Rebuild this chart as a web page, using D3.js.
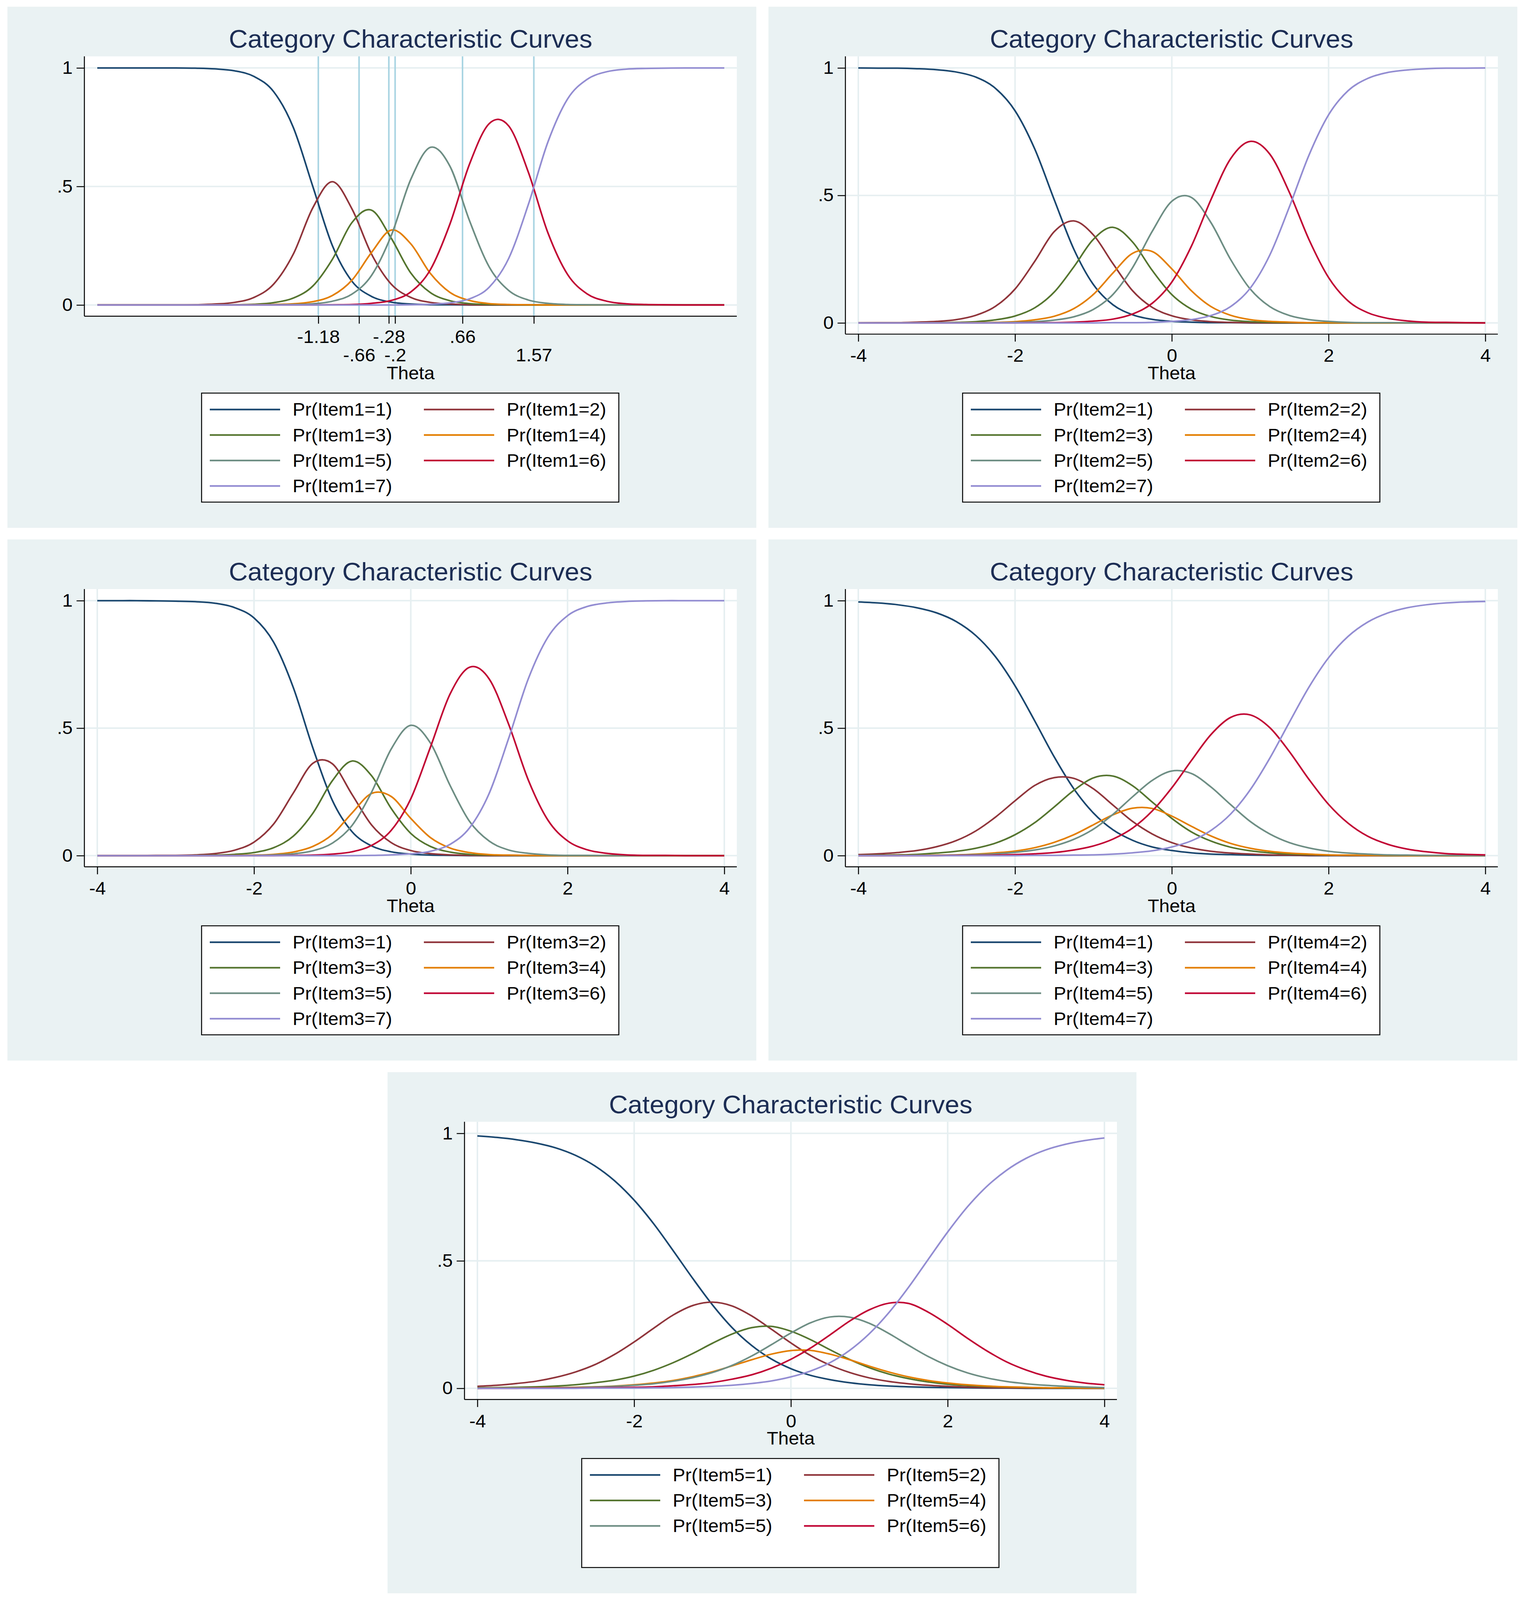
<!DOCTYPE html>
<html>
<head>
<meta charset="utf-8">
<title>Category Characteristic Curves</title>
<script src="https://cdn.jsdelivr.net/npm/d3@7"></script>
<style>
  html, body { margin: 0; padding: 0; width: 100%; height: 100%; overflow: hidden; background: #ffffff; }
  #chart svg { display: block; width: 100vw; height: 100vh; font-family: "Liberation Sans", Arial, Helvetica, sans-serif; }
</style>
</head>
<body>
<div id="chart"></div>
<script>
// theta grid shared by all five items
const theta = [-4,-3.75,-3.5,-3.25,-3,-2.75,-2.5,-2.25,-2,-1.75,-1.5,-1.25,-1,-0.75,-0.5,-0.25,0,
               0.25,0.5,0.75,1,1.25,1.5,1.75,2,2.25,2.5,2.75,3,3.25,3.5,3.75,4];

// Item1, Pr(Item1=k)
const item1Cat1 = [1,1,1,1,1,.999,.996,.988,.964,.900,.750,.500,.250,.100,.036,.012,.004,.001,.001,0,0,0,0,0,0,0,0,0,0,0,0,0,0];
const item1Cat2 = [0,0,0,0,0,.001,.004,.011,.032,.088,.214,.410,.520,.405,.214,.088,.032,.011,.004,.001,0,0,0,0,0,0,0,0,0,0,0,0,0];
const item1Cat3 = [0,0,0,0,0,0,0,.001,.003,.010,.029,.080,.193,.348,.400,.282,.135,.052,.018,.006,.002,.001,0,0,0,0,0,0,0,0,0,0,0];
const item1Cat4 = [0,0,0,0,0,0,0,0,.001,.002,.005,.014,.040,.105,.222,.316,.258,.133,.053,.019,.006,.002,.001,0,0,0,0,0,0,0,0,0,0];
const item1Cat5 = [0,0,0,0,0,0,0,0,0,.001,.002,.005,.016,.046,.125,.292,.530,.665,.585,.355,.161,.061,.021,.007,.002,.001,0,0,0,0,0,0,0];
const item1Cat6 = [0,0,0,0,0,0,0,0,0,0,0,0,.001,.002,.007,.019,.055,.149,.342,.595,.765,.755,.560,.304,.129,.047,.016,.005,.002,.001,0,0,0];
const item1Cat7 = [0,0,0,0,0,0,0,0,0,0,0,0,0,0,0,0,.001,.003,.009,.026,.075,.197,.424,.688,.869,.952,.984,.995,.998,.999,1,1,1];
// boundaries marked on the Item1 graph
const item1Cuts = [-1.18,-0.66,-0.28,-0.2,0.66,1.57];
const item1CutLabels = ["-1.18","-.66","-.28","-.2",".66","1.57"];

// Item2
const item2Cat1 = [1,.999,.999,.997,.993,.984,.964,.920,.832,.683,.483,.289,.150,.071,.032,.014,.006,.003,.001,.001,0,0,0,0,0,0,0,0,0,0,0,0,0];
const item2Cat2 = [0,.001,.001,.003,.006,.013,.030,.065,.133,.241,.358,.400,.345,.232,.126,.061,.028,.012,.005,.002,.001,0,0,0,0,0,0,0,0,0,0,0,0];
const item2Cat3 = [0,0,0,0,.001,.002,.005,.012,.027,.059,.121,.220,.328,.375,.317,.206,.111,.054,.025,.011,.005,.002,.001,0,0,0,0,0,0,0,0,0,0];
const item2Cat4 = [0,0,0,0,0,0,.001,.002,.005,.012,.026,.056,.112,.196,.273,.280,.212,.126,.064,.030,.013,.006,.003,.001,.001,0,0,0,0,0,0,0,0];
const item2Cat5 = [0,0,0,0,0,0,0,.001,.002,.005,.011,.024,.053,.112,.217,.359,.477,.492,.393,.249,.133,.064,.029,.013,.006,.002,.001,.001,0,0,0,0,0];
const item2Cat6 = [0,0,0,0,0,0,0,0,0,.001,.001,.003,.007,.015,.035,.077,.160,.301,.484,.644,.712,.662,.512,.327,.178,.086,.040,.018,.008,.003,.002,.001,0];
const item2Cat7 = [0,0,0,0,0,0,0,0,0,0,0,0,0,.001,.001,.002,.006,.013,.029,.064,.136,.266,.455,.658,.816,.911,.959,.982,.992,.997,.999,.999,1];

// Item3
const item3Cat1 = [1,1,1,.999,.998,.996,.990,.973,.932,.837,.660,.423,.216,.094,.038,.015,.006,.002,.001,0,0,0,0,0,0,0,0,0,0,0,0,0,0];
const item3Cat2 = [0,0,0,.001,.001,.003,.008,.021,.053,.124,.245,.362,.360,.240,.120,.051,.020,.008,.003,.001,0,0,0,0,0,0,0,0,0,0,0,0,0];
const item3Cat3 = [0,0,0,0,0,.001,.002,.005,.012,.031,.076,.166,.294,.371,.313,.185,.087,.036,.014,.005,.002,.001,0,0,0,0,0,0,0,0,0,0,0];
const item3Cat4 = [0,0,0,0,0,0,0,.001,.002,.005,.014,.036,.083,.167,.244,.232,.146,.071,.030,.012,.004,.002,.001,0,0,0,0,0,0,0,0,0,0];
const item3Cat5 = [0,0,0,0,0,0,0,0,.001,.003,.007,.019,.049,.118,.249,.418,.511,.442,.276,.134,.057,.022,.009,.003,.001,.001,0,0,0,0,0,0,0];
const item3Cat6 = [0,0,0,0,0,0,0,0,0,0,.001,.002,.006,.015,.040,.099,.223,.425,.633,.739,.693,.514,.296,.139,.058,.023,.009,.003,.001,.001,0,0,0];
const item3Cat7 = [0,0,0,0,0,0,0,0,0,0,0,0,0,0,.001,.003,.007,.017,.044,.109,.244,.461,.694,.857,.941,.977,.991,.997,.999,1,1,1,1];

// Item4
const item4Cat1 = [.995,.991,.984,.972,.952,.918,.863,.780,.666,.529,.387,.262,.167,.101,.060,.034,.020,.011,.006,.004,.002,.001,.001,0,0,0,0,0,0,0,0,0,0];
const item4Cat2 = [.004,.007,.012,.020,.035,.059,.097,.151,.215,.275,.306,.303,.262,.198,.134,.085,.051,.030,.017,.010,.006,.003,.002,.001,.001,0,0,0,0,0,0,0,0];
const item4Cat3 = [.001,.002,.003,.005,.010,.017,.029,.049,.082,.129,.191,.256,.305,.312,.274,.210,.146,.093,.057,.033,.019,.011,.006,.004,.002,.001,.001,0,0,0,0,0,0];
const item4Cat4 = [0,0,.001,.001,.002,.003,.006,.011,.018,.031,.052,.082,.121,.160,.186,.185,.155,.115,.077,.048,.029,.017,.010,.006,.003,.002,.001,.001,0,0,0,0,0];
const item4Cat5 = [0,0,0,.001,.001,.002,.004,.007,.013,.022,.038,.064,.104,.162,.231,.295,.332,.322,.269,.200,.134,.085,.051,.030,.017,.010,.006,.003,.002,.001,.001,0,0];
const item4Cat6 = [0,0,0,0,0,.001,.001,.002,.004,.007,.012,.022,.038,.065,.108,.175,.266,.373,.475,.542,.552,.502,.408,.299,.201,.127,.076,.045,.026,.015,.008,.005,.003];
const item4Cat7 = [0,0,0,0,0,0,0,0,0,.001,.001,.002,.003,.006,.011,.019,.034,.058,.099,.163,.258,.382,.523,.661,.776,.860,.916,.951,.972,.984,.991,.995,.997];

// Item5
const item5Cat1 = [.990,.984,.975,.962,.943,.914,.872,.814,.738,.645,.539,.430,.327,.238,.168,.115,.077,.051,.034,.022,.014,.009,.006,.004,.003,.002,.001,.001,0,0,0,0,0];
const item5Cat2 = [.008,.012,.019,.028,.043,.064,.093,.133,.182,.236,.288,.325,.338,.323,.284,.232,.178,.129,.091,.062,.041,.027,.018,.012,.008,.005,.003,.002,.001,.001,.001,0,0];
const item5Cat3 = [.002,.003,.004,.006,.009,.014,.022,.032,.048,.071,.101,.137,.177,.213,.238,.243,.224,.191,.151,.113,.081,.056,.038,.025,.016,.011,.007,.005,.003,.002,.001,.001,.001];
const item5Cat4 = [0,.001,.001,.002,.003,.004,.006,.009,.014,.021,.031,.046,.065,.088,.112,.134,.148,.149,.134,.112,.087,.064,.045,.031,.021,.014,.009,.006,.004,.002,.002,.001,.001];
const item5Cat5 = [0,.001,.001,.001,.002,.003,.005,.008,.012,.018,.028,.042,.062,.090,.127,.171,.217,.257,.280,.279,.255,.215,.169,.125,.089,.061,.041,.027,.018,.012,.008,.005,.003];
const item5Cat6 = [0,0,0,.001,.001,.001,.002,.003,.004,.006,.010,.015,.023,.036,.053,.079,.114,.158,.210,.264,.308,.334,.333,.299,.251,.197,.147,.104,.072,.048,.032,.021,.014];
const item5Cat7 = [0,0,0,0,0,0,.001,.001,.001,.002,.003,.005,.008,.012,.019,.029,.045,.068,.101,.149,.214,.297,.396,.505,.613,.711,.792,.855,.902,.935,.957,.972,.982];

const yTicks = [0, 0.5, 1];
const yTickLabels = ["0", ".5", "1"];
const xTicks = [-4, -2, 0, 2, 4];
const xTickLabels = ["-4", "-2", "0", "2", "4"];
const catColors = ["#1a476f","#90353b","#55752f","#e37e00","#6e8e84","#c10534","#938dd2"];
const titleText = "Category Characteristic Curves";

const items = [
  {name: "Item1", cats: [item1Cat1,item1Cat2,item1Cat3,item1Cat4,item1Cat5,item1Cat6,item1Cat7], nLegend: 7, cuts: item1Cuts},
  {name: "Item2", cats: [item2Cat1,item2Cat2,item2Cat3,item2Cat4,item2Cat5,item2Cat6,item2Cat7], nLegend: 7},
  {name: "Item3", cats: [item3Cat1,item3Cat2,item3Cat3,item3Cat4,item3Cat5,item3Cat6,item3Cat7], nLegend: 7},
  {name: "Item4", cats: [item4Cat1,item4Cat2,item4Cat3,item4Cat4,item4Cat5,item4Cat6,item4Cat7], nLegend: 7},
  {name: "Item5", cats: [item5Cat1,item5Cat2,item5Cat3,item5Cat4,item5Cat5,item5Cat6,item5Cat7], nLegend: 6}
];

const W = 3901, H = 4286;
const panelW = 1917, panelH = 1396;
const panelPos = [[19,18],[1967,18],[19,1445],[1967,1445],[992,2872]];

// drawn in a fixed 3901x4286 space and stretched to whatever the window shows
const svg = d3.select("#chart").append("svg")
    .attr("viewBox", [0, 0, W, H])
    .attr("preserveAspectRatio", "none");

svg.append("rect").attr("width", W).attr("height", H).attr("fill", "#ffffff");

const plotL = 197, plotR = 1867, plotT = 133;
const fs = 48;

items.forEach((item, p) => {
  const g = svg.append("g").attr("transform", `translate(${panelPos[p][0]},${panelPos[p][1]})`);
  const hasCuts = item.cuts != null;
  const plotB = hasCuts ? 829 : 877;

  const x = d3.scaleLinear().domain([-4, 4]).range([230, 1835]);
  const y = d3.scaleLinear().domain([0, 1]).range([plotB - 30, 164]);

  g.append("rect").attr("width", panelW).attr("height", panelH).attr("fill", "#eaf2f3");
  g.append("rect").attr("x", plotL).attr("y", plotT)
    .attr("width", plotR - plotL).attr("height", plotB - plotT).attr("fill", "#ffffff");

  g.append("text")
    .attr("x", (plotL + plotR) / 2).attr("y", 110)
    .attr("text-anchor", "middle").attr("font-size", 67).attr("fill", "#1c2d54")
    .text(titleText);

  // grid
  g.append("g").selectAll("line").data(yTicks).join("line")
    .attr("x1", plotL).attr("x2", plotR)
    .attr("y1", d => y(d)).attr("y2", d => y(d))
    .attr("stroke", "#e6eff1").attr("stroke-width", 4);

  if (!hasCuts) {
    g.append("g").selectAll("line").data(xTicks).join("line")
      .attr("x1", d => x(d)).attr("x2", d => x(d))
      .attr("y1", plotT).attr("y2", plotB)
      .attr("stroke", "#e6eff1").attr("stroke-width", 4);
  } else {
    g.append("g").selectAll("line").data(item.cuts).join("line")
      .attr("x1", d => x(d)).attr("x2", d => x(d))
      .attr("y1", plotT).attr("y2", plotB)
      .attr("stroke", "#a8d4e2").attr("stroke-width", 4);
  }

  // curves (uniform Catmull-Rom keeps the peaks and stays smooth)
  const line = d3.line()
    .x((d, i) => x(theta[i]))
    .y(d => y(d))
    .curve(d3.curveCatmullRom.alpha(0));

  g.append("g").selectAll("path").data(item.cats).join("path")
    .attr("d", line)
    .attr("fill", "none")
    .attr("stroke", (d, i) => catColors[i])
    .attr("stroke-width", 4.2)
    .attr("stroke-linejoin", "round");

  // y axis
  const yAxis = g.append("g")
    .attr("transform", `translate(${plotL},0)`)
    .call(d3.axisLeft(y).tickValues(yTicks).tickFormat((d, i) => yTickLabels[i]).tickSize(20).tickPadding(10))
    .attr("font-size", fs).attr("font-family", null);
  yAxis.select(".domain").remove();
  yAxis.selectAll("line").attr("stroke-width", 2.5);
  g.append("line").attr("x1", plotL).attr("x2", plotL).attr("y1", plotT).attr("y2", plotB)
    .attr("stroke", "#000").attr("stroke-width", 2.5);

  // x axis
  const xa = hasCuts
    ? d3.axisBottom(x).tickValues(item.cuts).tickFormat((d, i) => item1CutLabels[i])
    : d3.axisBottom(x).tickValues(xTicks).tickFormat((d, i) => xTickLabels[i]);
  const xAxis = g.append("g")
    .attr("transform", `translate(0,${plotB})`)
    .call(xa.tickSize(20).tickPadding(hasCuts ? 18 : 20))
    .attr("font-size", fs).attr("font-family", null);
  xAxis.select(".domain").remove();
  xAxis.selectAll("line").attr("stroke-width", 2.5);
  if (hasCuts) {
    xAxis.selectAll("text").attr("dy", (d, i) => i % 2 ? "1.73em" : "0.71em");
  }
  g.append("line").attr("x1", plotL).attr("x2", plotR).attr("y1", plotB).attr("y2", plotB)
    .attr("stroke", "#000").attr("stroke-width", 2.5);

  g.append("text")
    .attr("x", (plotL + plotR) / 2).attr("y", 998)
    .attr("text-anchor", "middle").attr("font-size", fs)
    .text("Theta");

  // legend
  const lg = g.append("g");
  lg.append("rect").attr("x", 497).attr("y", 1035).attr("width", 1068).attr("height", 292)
    .attr("fill", "#ffffff").attr("stroke", "#000").attr("stroke-width", 2.5);
  const entries = d3.range(item.nLegend);
  const row = k => 1079 + 68.3 * Math.floor(k / 2);
  lg.selectAll("line.key").data(entries).join("line")
    .attr("class", "key")
    .attr("x1", k => k % 2 ? 1066 : 518).attr("x2", k => k % 2 ? 1246 : 698)
    .attr("y1", row).attr("y2", row)
    .attr("stroke", k => catColors[k]).attr("stroke-width", 4.5);
  lg.selectAll("text").data(entries).join("text")
    .attr("x", k => k % 2 ? 1278 : 730).attr("y", row).attr("dy", "0.35em")
    .attr("font-size", fs)
    .text(k => `Pr(${item.name}=${k + 1})`);
});
</script>
</body>
</html>
